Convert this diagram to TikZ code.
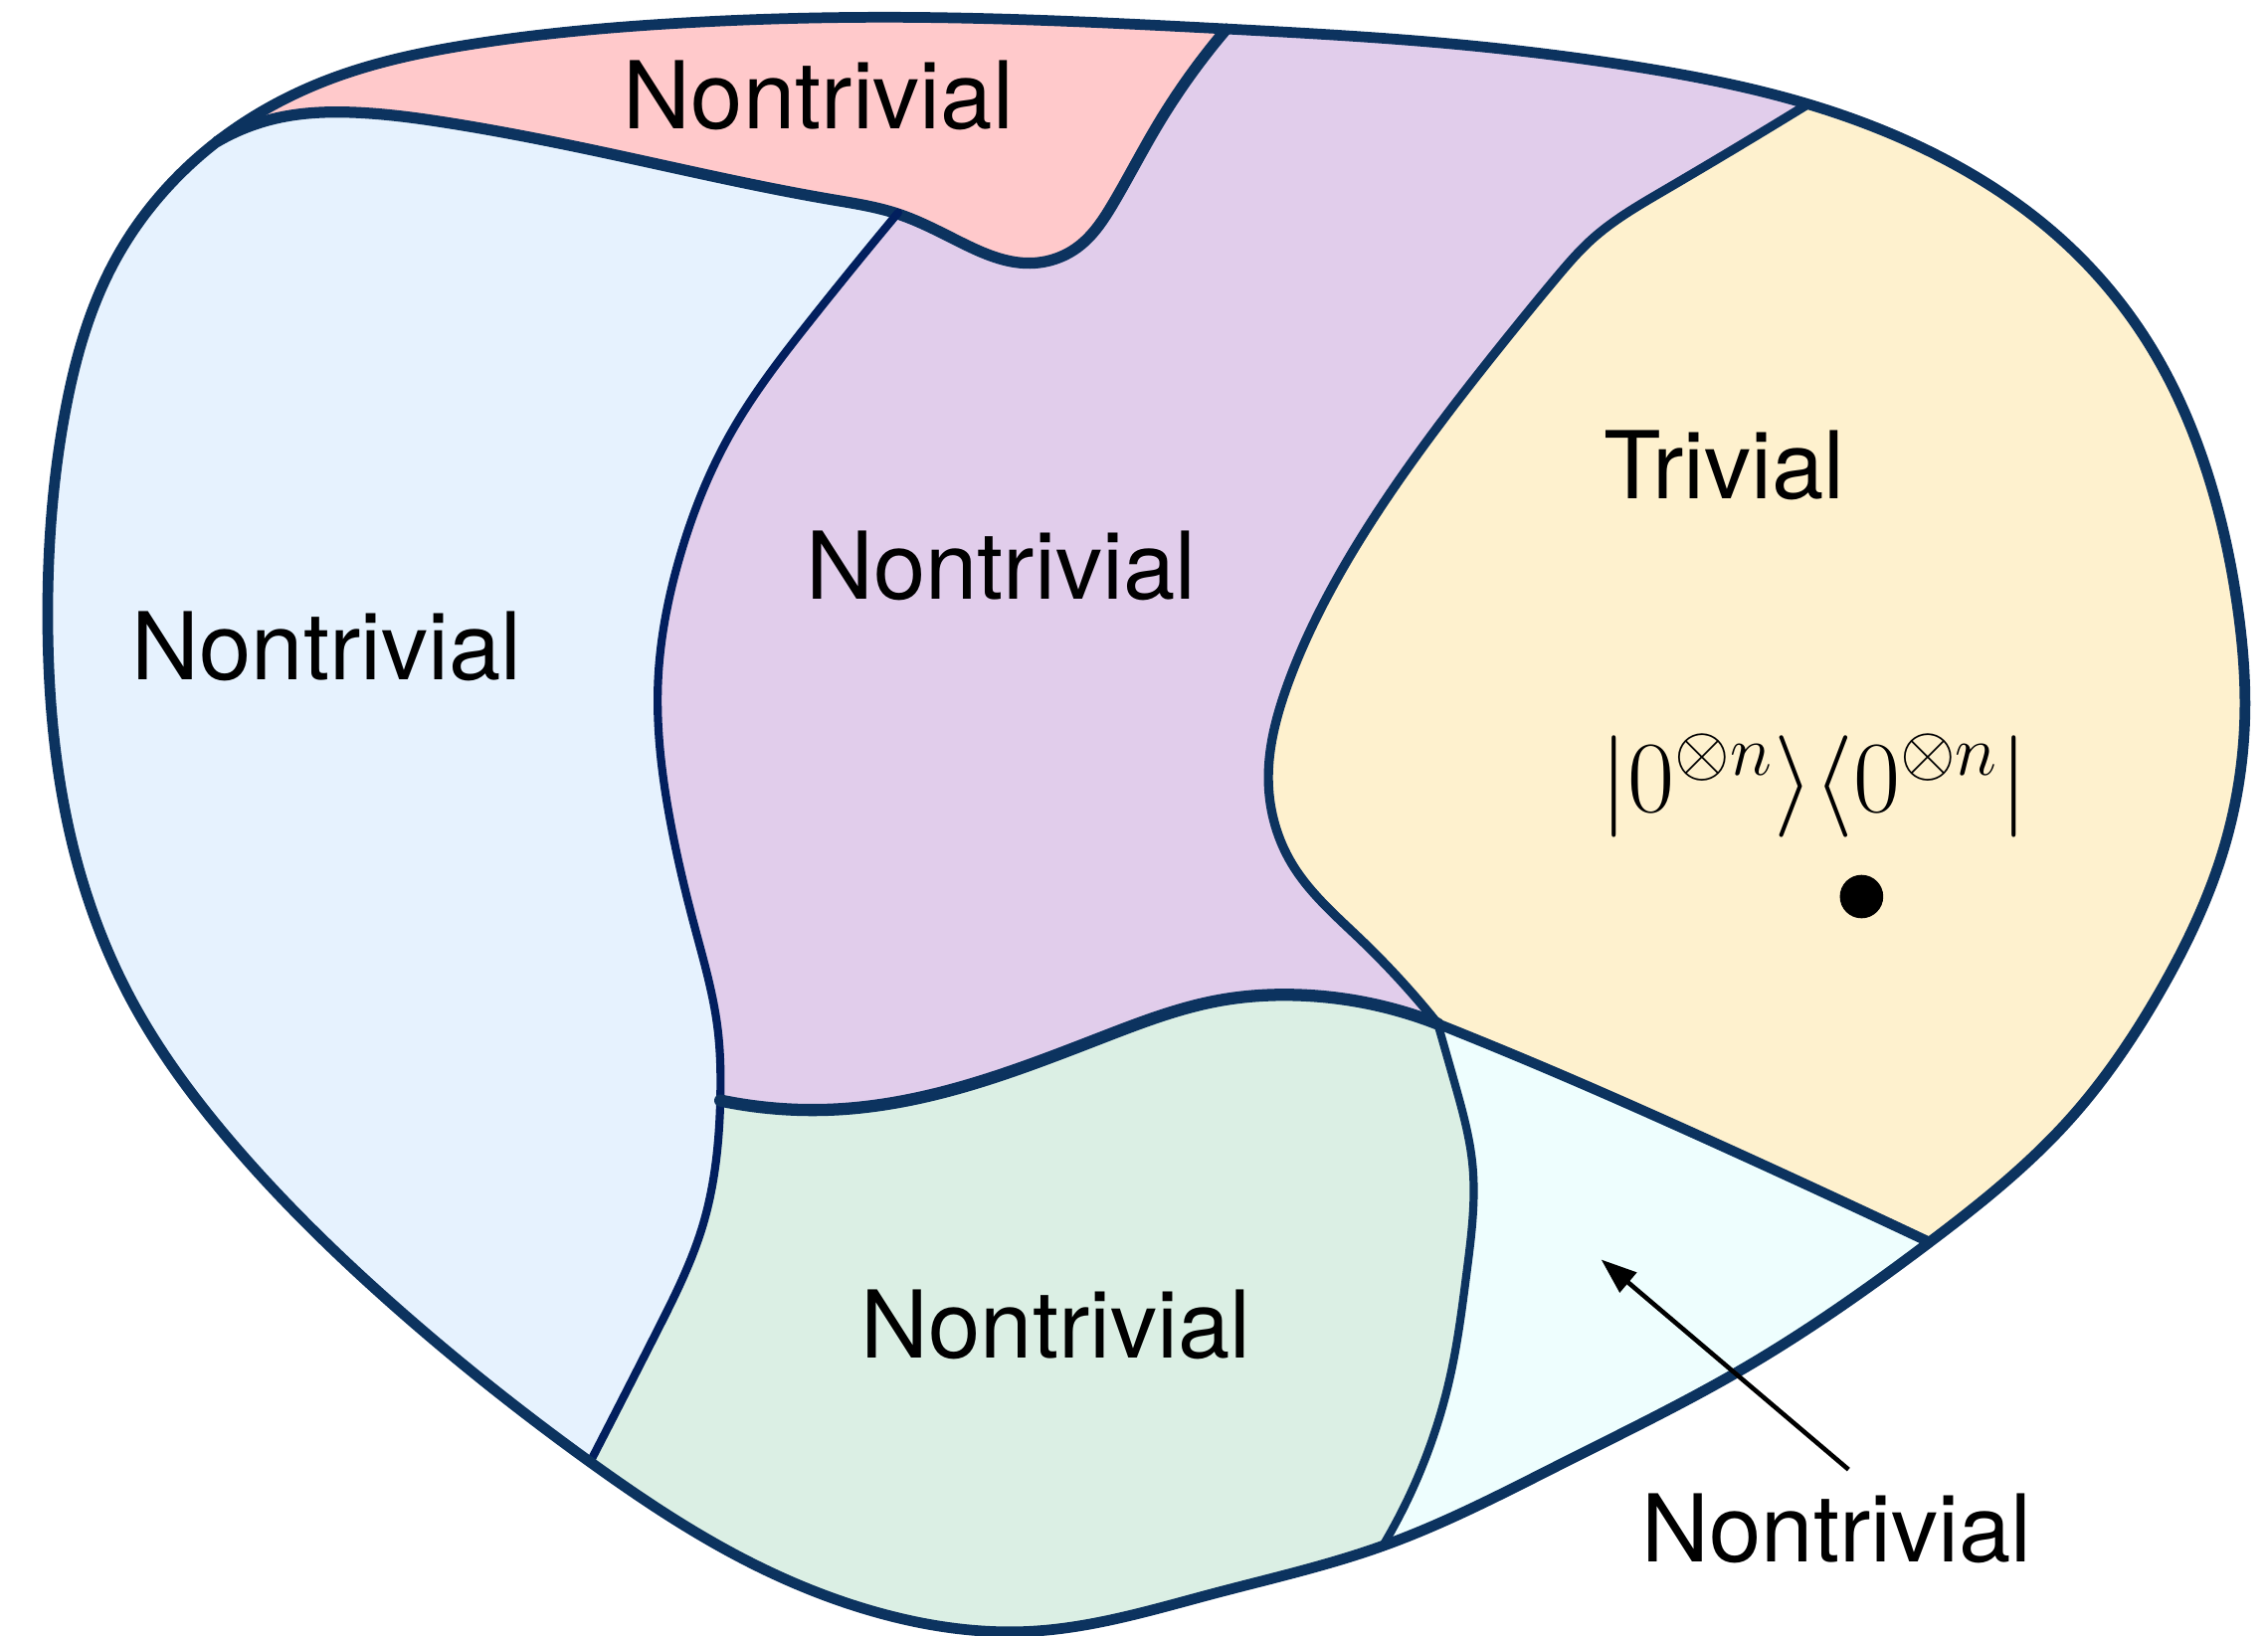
\documentclass[tikz,border=0pt]{standalone}
\usepackage{fix-cm}
\usepackage[no-math]{fontspec}
\setmainfont{TeX Gyre Heros}
\usetikzlibrary{arrows.meta,hobby}
\definecolor{linec}{HTML}{0C335F}
\definecolor{linel}{HTML}{021F5E}
\definecolor{fpink}{HTML}{FFC9CB}
\definecolor{fblue}{HTML}{E6F2FE}
\definecolor{fpurple}{HTML}{E1CDEB}
\definecolor{fyellow}{HTML}{FEF1CE}
\definecolor{fgreen}{HTML}{DBEFE4}
\definecolor{fcyan}{HTML}{EEFEFE}
\newcommand\supon{\mbox{\fontsize{14}{16}\selectfont$\otimes n$}}
\newcommand\segOuter{(150,98) .. (230,54) .. (330,30) .. (470,16) .. (630,12) .. (848,20) .. (1000,30) .. (1130,46) .. (1250,72) .. (1350,113) .. (1430,170) .. (1490,245) .. (1527,330) .. (1547,420) .. (1552,495) .. (1538,585) .. (1492,688) .. (1430,775) .. (1334,859) .. (1206,946) .. (1080,1012) .. (956,1069) .. (839,1102) .. (714,1128) .. (610,1116) .. (510,1076) .. (408,1011) .. (276,906) .. (160,790) .. (90,690) .. (48,575) .. (33,430) .. (45,285) .. (78,183) .. (150,98)}
\newcommand\segPink{-- (150,98) .. (190,82) .. (250,78) .. (310,85) .. (420,106) .. (575,138) .. (621,148) .. (665,168) .. (712,182) .. (745,171) .. (770,140) .. (800,87) .. (848,20)}
\newcommand\segCI{-- (621,147) .. (560,222) .. (505,300) .. (470,385) .. (455,470) .. (462,560) .. (480,640) .. (496,710) .. (498,761) .. (486,847) .. (454,921) .. (408,1011)}
\newcommand\segEF{-- (498,761) .. (581,767) .. (664,752) .. (763,717) .. (842,692) .. (895,688) .. (994,708)}
\newcommand\segDF{-- (1250,72) .. (1150,132) .. (1100,166) .. (1076,192) .. (1040,236) .. (968,331) .. (920,408) .. (890,474) .. (877,542) .. (893,597) .. (941,650) .. (994,708)}
\newcommand\segFG{-- (994,708) .. (1067,738) .. (1185,790) .. (1334,859)}
\newcommand\segFH{-- (994,708) .. (1006,750) .. (1018,805) .. (1014,880) .. (1003,950) .. (956,1069)}
\tikzset{
  lbl/.style={font=\fontsize{18.4}{22}\selectfont, text=black, inner sep=2pt},
  border/.style={draw=linec, line width=2.1pt, line join=round, line cap=round},
  pointer/.style={draw=black, line width=0.9pt, -{Triangle[length=7pt,width=5pt]}},
}
\begin{document}
\begin{tikzpicture}[x=0.01cm,y=-0.01cm,use Hobby shortcut]
\useasboundingbox (0,0) rectangle (1568,1131);
\begin{scope}
  \clip[closed=true] \segOuter;
  \fill[fpurple] (-50,-50) rectangle (1700,1200);
  \fill[fcyan] (994,708) \segFG -- (1400,1200) -- (700,1200) -- (700,900) -- (960,760) -- cycle;
  \fill[fgreen] (498,761) \segEF \segFH -- (960,1200) -- (300,1200) -- (300,761) -- cycle;
  \fill[fblue] (-50,-50) -- (621,-50) \segCI -- (380,1200) -- (-50,1200) -- cycle;
  \fill[fpink] (60,-50) \segPink -- (870,-50) -- cycle;
  \fill[fyellow] (1250,72) \segDF \segFG -- (1700,900) -- (1700,-50) -- (1260,-50) -- cycle;
\end{scope}
\draw[border, line width=2.2pt] (150,98) \segPink;
\draw[border, draw=linel, line width=1.6pt] (621,147) \segCI;
\draw[border, line width=2.4pt] (498,761) \segEF;
\draw[border, line width=1.8pt] (1250,72) \segDF;
\draw[border, line width=2pt] (994,708) \segFG;
\draw[border, line width=1.6pt] (994,708) \segFH;
\draw[border, closed=true] \segOuter;
\node[lbl] (ntop) at (566,66) {Nontrivial};
\node[lbl] (nleft) at (226,447) {Nontrivial};
\node[lbl] (nmid) at (692,391) {Nontrivial};
\node[lbl] (ntriv) at (1192,322) {Trivial};
\node[lbl] (nbot) at (730,916) {Nontrivial};
\node[lbl] (nout) at (1270,1057) {Nontrivial};
\node[font=\fontsize{20}{24}\selectfont, inner sep=0pt] (state) at (1254,543) {$\left|0^{\supon}\right\rangle\!\left\langle 0^{\supon}\right|$};
\node[circle, fill=black, minimum size=0.3cm, inner sep=0pt] (dot) at (1287,620) {};
\coordinate (atip) at (1107,871);
\draw[pointer] ([xshift=0.08cm,yshift=0.09cm]nout.north) -- (atip);
\end{tikzpicture}
\end{document}
